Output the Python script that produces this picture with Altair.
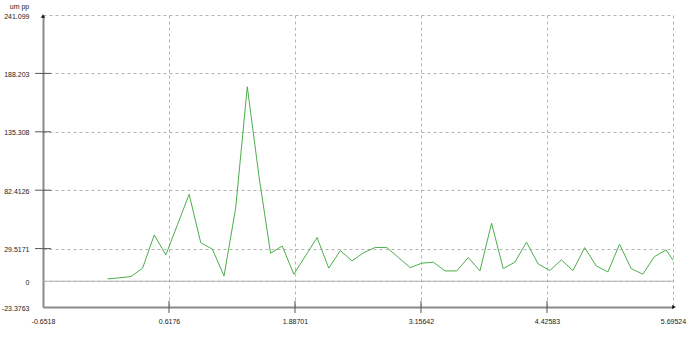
import altair as alt
import pandas as pd

# ---- data ----
freq = [0.0, 0.1172, 0.2344, 0.3516, 0.4688, 0.586, 0.7032, 0.8204, 0.9376, 1.0548,
        1.172, 1.2892, 1.4064, 1.5236, 1.6408, 1.758, 1.8752, 1.9924, 2.1096, 2.2268,
        2.344, 2.4612, 2.5784, 2.6956, 2.8128, 2.93, 3.0472, 3.1644, 3.2816, 3.3988,
        3.516, 3.6332, 3.7504, 3.8676, 3.9848, 4.102, 4.2192, 4.3364, 4.4536, 4.5708,
        4.688, 4.8052, 4.9224, 5.0396, 5.1568, 5.274, 5.3912, 5.5084, 5.6256, 5.7428]
amp = [2.1, 3.0, 4.2, 11.8, 41.9, 23.8, 51.2, 78.7, 34.9, 29.0,
       4.8, 66.1, 176.1, 95.3, 25.3, 31.9, 6.3, 22.9, 39.5, 11.8,
       27.7, 18.4, 25.8, 30.6, 30.4, 21.4, 12.3, 16.3, 17.2, 9.3,
       9.3, 21.4, 9.3, 52.5, 11.4, 17.2, 35.3, 15.7, 9.6, 19.3,
       9.6, 30.4, 13.8, 8.4, 33.5, 11.4, 6.3, 22.3, 28.3, 12.9]

x_ticks = [-0.6518, 0.6176, 1.88701, 3.15642, 4.42583, 5.69524]
y_ticks = [-23.3763, 0, 29.5171, 82.4126, 135.308, 188.203, 241.099]
x_inner_ticks = [0.6176, 1.88701, 3.15642, 4.42583]
y_inner_ticks = [29.5171, 82.4126, 135.308, 188.203]
baseline = [0]

W, H = 630, 292
FONT = "Liberation Sans, Arial, sans-serif"
GRID = "#b4b4b4"
AXIS = "#8a8a8a"
LBL = 7

xs = alt.Scale(domain=[x_ticks[0], x_ticks[-1]], nice=False, zero=False)
ys = alt.Scale(domain=[y_ticks[0], y_ticks[-1]], nice=False, zero=False)

df = pd.DataFrame({"f": freq, "a": amp})

x_axis = alt.Axis(values=x_ticks, grid=True, gridDash=[3, 3], gridColor=GRID,
                  gridWidth=1, ticks=False, labelPadding=10, labelFontSize=LBL,
                  labelFont=FONT, labelColor="#222", labelFlush=False,
                  labelOverlap=False, labelExpr="'' + datum.value",
                  domainColor=AXIS, domainWidth=2, title=None)
y_axis = alt.Axis(values=y_ticks, grid=True, gridDash=[3, 3], gridColor=GRID,
                  gridWidth=1, ticks=False, labelPadding=14, labelAlign="right",
                  labelBaseline="middle", labelOffset=1, labelFontSize=LBL,
                  labelFont=FONT, labelColor="#222", labelFlush=False,
                  labelOverlap=False, labelExpr="'' + datum.value",
                  domainColor=AXIS, domainWidth=2,
                  title="um pp", titleAngle=0, titleAlign="center",
                  titleBaseline="middle", titleX=-24, titleY=-9,
                  titleFontSize=LBL, titleFont=FONT, titleFontWeight="normal",
                  titleColor="#222")

line = alt.Chart(df).mark_line(color="#4cae4c", strokeWidth=1, clip=True).encode(
    x=alt.X("f:Q", scale=xs, axis=x_axis),
    y=alt.Y("a:Q", scale=ys, axis=y_axis),
)

zero = alt.Chart(pd.DataFrame({"b": baseline})).mark_rule(
    color="#b0b0b0", strokeWidth=1).encode(
    y=alt.Y("b:Q", scale=ys), x=alt.value(0), x2=alt.value(W))

yt = alt.Chart(pd.DataFrame({"t": y_inner_ticks})).mark_rule(
    color="#555", strokeWidth=1).encode(
    y=alt.Y("t:Q", scale=ys), x=alt.value(-8), x2=alt.value(8))

xt = alt.Chart(pd.DataFrame({"t": x_inner_ticks})).mark_rule(
    color="#555", strokeWidth=1).encode(
    x=alt.X("t:Q", scale=xs), y=alt.value(H - 6), y2=alt.value(H + 6))

dummy = pd.DataFrame({"d": [0]})
arrow_up = alt.Chart(dummy).mark_point(shape="triangle-up", filled=True,
                                       color="#111", size=18, opacity=1).encode(
    x=alt.value(0), y=alt.value(1))
arrow_right = alt.Chart(dummy).mark_point(shape="triangle-right", filled=True,
                                          color="#111", size=18, opacity=1).encode(
    x=alt.value(W + 1), y=alt.value(H))

chart = alt.layer(zero, line, yt, xt, arrow_up, arrow_right).properties(
    width=W, height=H,
    autosize=alt.AutoSizeParams(type="none"),
    padding={"left": 43, "top": 15, "right": 17, "bottom": 39},
    background="white",
).configure_view(stroke=None)

chart.save("out.html", embed_options={"renderer": "svg", "actions": False})
